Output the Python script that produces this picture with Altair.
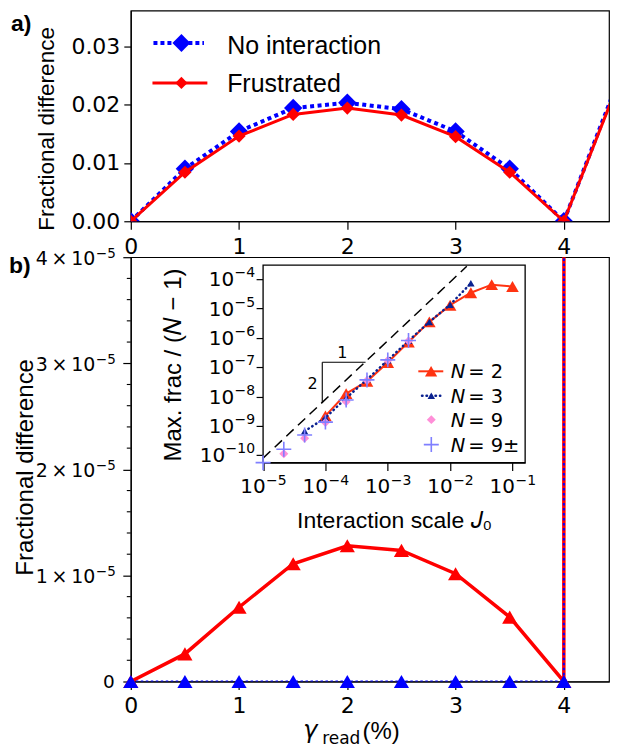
import altair as alt
import pandas as pd

# ---------------- data ----------------
gamma_read = [0, 0.5, 1, 1.5, 2, 2.5, 3, 3.5, 4, 4.5]
a_no_interaction = [0, 0.0090, 0.0154, 0.0194, 0.0203, 0.0192, 0.0154, 0.0090, 0.0, 0.0240]
a_frustrated = [0, 0.0084, 0.0146, 0.0183, 0.0194, 0.0182, 0.0145, 0.0084, 0.0, 0.0235]

b_no_interaction = [0, 0, 0, 0, 0, 0, 0, 0, 0, 0.0240]
b_frustrated = [0, 2.6e-6, 7.0e-6, 1.11e-5, 1.28e-5, 1.236e-5, 1.016e-5, 6.07e-6, 0, 0.0235]
b_major_ticks = [0, 1e-5, 2e-5, 3e-5, 4e-5]
b_minor_ticks = [0.2e-5, 0.4e-5, 0.6e-5, 0.8e-5, 1.2e-5, 1.4e-5, 1.6e-5, 1.8e-5,
                 2.2e-5, 2.4e-5, 2.6e-5, 2.8e-5, 3.2e-5, 3.4e-5, 3.6e-5, 3.8e-5]
x_domain = [0, 4.4172]

# inset
n2_J0 = [1e-4, 2.15e-4, 4.64e-4, 1e-3, 2.15e-3, 4.64e-3, 1e-2, 2.15e-2, 4.64e-2, 1e-1]
n2_val = [2.2e-9, 1.26e-8, 3.3e-8, 1.45e-7, 7.2e-7, 3.5e-6, 1.3e-5, 3.45e-5, 6.5e-5, 5.6e-5]
n3_J0 = [4.64e-5, 1e-4, 2.15e-4, 4.64e-4, 1e-3, 2.15e-3, 4.64e-3, 1e-2, 2.15e-2]
n3_val = [6.6e-10, 1.9e-9, 8.9e-9, 3.8e-8, 1.74e-7, 7.9e-7, 3.5e-6, 1.35e-5, 7.2e-5]
n9_J0 = [2.15e-5, 4.64e-5, 1e-4, 2.15e-4, 4.64e-4, 1e-3, 2.15e-3]
n9_val = [1.12e-10, 3.8e-10, 1.32e-9, 6.6e-9, 3.5e-8, 1.7e-7, 7.8e-7]
n9pm_J0 = [1e-5, 2.15e-5, 4.64e-5, 1e-4, 2.15e-4, 4.64e-4, 1e-3, 2.15e-3]
n9pm_val = [5.6e-11, 1.6e-10, 4.9e-10, 1.35e-9, 7.6e-9, 3.7e-8, 1.78e-7, 8.1e-7]
guide_J0 = [1e-5, 0.0185]
guide_val = [8e-11, 2.74e-4]
slope_J0 = [8.9e-5, 4.4e-4]
slope_val = [6.0e-9, 1.48e-7]
inset_x_ticks = [1e-5, 1e-4, 1e-3, 1e-2, 1e-1]
inset_y_ticks = [1e-10, 1e-9, 1e-8, 1e-7, 1e-6, 1e-5, 1e-4]
inset_x_domain = [1e-5, 0.1596]
inset_y_domain = [10 ** -10.248, 10 ** -3.524]

# ---------------- helpers ----------------
one = pd.DataFrame({'k': [0]})
MINUS = '\u2212'


def txt(s, x, y, size, font='Liberation Sans', style='normal', weight='normal',
        align='left', baseline='alphabetic'):
    return alt.Chart(one).mark_text(text=s, font=font, fontSize=size, fontStyle=style,
                                    fontWeight=weight, align=align, baseline=baseline,
                                    color='black').encode(x=alt.value(x), y=alt.value(y))


def seg(x1, x2, y, color, width, dash=None, cap='butt'):
    kw = dict(color=color, strokeWidth=width, strokeCap=cap)
    if dash:
        kw['strokeDash'] = dash
    return alt.Chart(one).mark_rule(**kw).encode(x=alt.value(x1), x2=alt.value(x2), y=alt.value(y))


def sym(x, y, shape, size, color, filled=True, width=1.0):
    return alt.Chart(one).mark_point(shape=shape, size=size, color=color, filled=filled,
                                     opacity=1, strokeWidth=width).encode(x=alt.value(x), y=alt.value(y))


CROSS = 'M-1,0L1,0M0,-1L0,1'
C_N2, C_N3, C_N9, C_N9PM = '#ff3311', '#0b2290', '#ff8fd8', '#7f7fff'

common_axis = dict(grid=False, domainColor='black', tickColor='black', labelColor='black',
                   titleColor='black', labelFont='DejaVu Sans', titleFont='Liberation Sans',
                   titleFontWeight='normal', labelFlush=False, labelOverlap=False,
                   domainWidth=1.2, tickWidth=1.2)

W = 479
LAB_X = -122

# ---------------- panel a ----------------
df_a = pd.DataFrame({'g': gamma_read, 'noint': a_no_interaction, 'frus': a_frustrated})
xa = alt.Scale(domain=x_domain, nice=False, zero=False)
ya = alt.Scale(domain=[0, 0.0361], nice=False, zero=False)
ax_xa = alt.Axis(values=[0, 1, 2, 3, 4], format='d', title=None, tickSize=8,
                 labelPadding=24.7, labelBaseline='alphabetic', labelFontSize=22, **common_axis)
ax_ya = alt.Axis(values=[0, 0.01, 0.02, 0.03], format='.2f', title='Fractional difference',
                 titleFontSize=22.6, titleX=-77, titleY=118, titleAngle=270, titleAlign='center',
                 titleBaseline='alphabetic', tickSize=7, labelPadding=4, labelFontSize=22,
                 **common_axis)

base_a = alt.Chart(df_a)
a_blue_line = base_a.mark_line(color='#0000ff', strokeWidth=4, strokeDash=[4, 3.5], clip=True).encode(
    x=alt.X('g:Q', scale=xa, axis=ax_xa), y=alt.Y('noint:Q', scale=ya, axis=ax_ya))
a_blue_pts = base_a.mark_point(shape='diamond', size=340, filled=True, color='#0000ff', opacity=1,
                               clip=True).encode(
    x=alt.X('g:Q', scale=xa, axis=ax_xa), y=alt.Y('noint:Q', scale=ya, axis=ax_ya))
a_red_line = base_a.mark_line(color='#ff0000', strokeWidth=3, clip=True).encode(
    x=alt.X('g:Q', scale=xa, axis=ax_xa), y=alt.Y('frus:Q', scale=ya, axis=ax_ya))
a_red_pts = base_a.mark_point(shape='diamond', size=175, filled=True, color='#ff0000', opacity=1,
                              clip=True).encode(
    x=alt.X('g:Q', scale=xa, axis=ax_xa), y=alt.Y('frus:Q', scale=ya, axis=ax_ya))

panel_a = alt.layer(
    a_blue_line, a_blue_pts, a_red_line, a_red_pts,
    seg(22.7, 73.3, 32.4, '#0000ff', 4, dash=[4, 3]),
    sym(50.7, 32.4, 'diamond', 324, '#0000ff'),
    txt('No interaction', 96.5, 43, 25),
    seg(21.7, 76.7, 72.4, '#ff0000', 3),
    sym(50.7, 72.4, 'diamond', 150, '#ff0000'),
    txt('Frustrated', 96.5, 81.4, 25),
    txt('a)', LAB_X + 2, 20, 23, weight='bold'),
).properties(width=W, height=211)

# ---------------- panel b ----------------
df_b = pd.DataFrame({'g': gamma_read, 'noint': b_no_interaction, 'frus': b_frustrated})
yb = alt.Scale(domain=[0, 4e-5], nice=False, zero=False)
ax_xb = alt.Axis(values=[0, 1, 2, 3, 4], format='d', title=None, tickSize=8,
                 labelPadding=23.5, labelBaseline='alphabetic', labelFontSize=22, **common_axis)
ax_yb = alt.Axis(values=b_major_ticks, labels=False,
                 title='Fractional difference', titleFontSize=24, titleX=-98, titleY=210,
                 titleAngle=270, titleAlign='center', titleBaseline='alphabetic',
                 tickSize=8, **common_axis)

base_b = alt.Chart(df_b)
enc_bx = alt.X('g:Q', scale=xa, axis=ax_xb)
b_red_line = base_b.mark_line(color='#ff0000', strokeWidth=3.5, clip=True).encode(
    x=enc_bx, y=alt.Y('frus:Q', scale=yb, axis=ax_yb))
b_red_pts = base_b.transform_filter('datum.g <= 4').mark_point(
    shape='triangle-up', size=230, filled=True, color='#ff0000', opacity=1).encode(
    x=enc_bx, y=alt.Y('frus:Q', scale=yb, axis=ax_yb))
b_blue_line = base_b.mark_line(color='#0000ff', strokeWidth=2, strokeDash=[2.5, 2.5], clip=True).encode(
    x=enc_bx, y=alt.Y('noint:Q', scale=yb, axis=ax_yb))
b_blue_pts = base_b.transform_filter('datum.g <= 4').mark_point(
    shape='triangle-up', size=230, filled=True, color='#0000ff', opacity=1).encode(
    x=enc_bx, y=alt.Y('noint:Q', scale=yb, axis=ax_yb))
b_minor = alt.Chart(pd.DataFrame({'v': b_minor_ticks})).mark_rule(color='black', strokeWidth=1.1).encode(
    y=alt.Y('v:Q', scale=yb, axis=ax_yb), x=alt.value(-4), x2=alt.value(0))

# tick labels of panel b's y axis: mantissa "k × 10" with a raised exponent
df_bt = pd.DataFrame({'v': b_major_ticks})
b_lab_base = alt.Chart(df_bt).transform_filter('datum.v > 0').transform_calculate(
    t="format(datum.v * 1e5, 'd') + '\u2009×\u200910'").mark_text(
    font='DejaVu Sans', fontSize=19, align='right', baseline='alphabetic', dy=8, color='black').encode(
    x=alt.value(-35.5), y=alt.Y('v:Q', scale=yb, axis=ax_yb), text='t:N')
b_lab_exp = alt.Chart(df_bt).transform_filter('datum.v > 0').mark_text(
    text=MINUS + '5', font='DejaVu Sans', fontSize=13.5, align='left', baseline='alphabetic', dy=0.5,
    color='black').encode(x=alt.value(-35), y=alt.Y('v:Q', scale=yb, axis=ax_yb))
b_lab_zero = alt.Chart(df_bt).transform_filter('datum.v == 0').mark_text(
    text='0', font='DejaVu Sans', fontSize=18.5, align='right', baseline='alphabetic', dy=7,
    color='black').encode(x=alt.value(-16), y=alt.Y('v:Q', scale=yb, axis=ax_yb))

b_main = alt.layer(
    b_red_line, b_red_pts, b_blue_line, b_blue_pts, b_minor, b_lab_base, b_lab_exp, b_lab_zero,
    txt('b)', LAB_X, 15.7, 23, weight='bold'),
    txt('γ', 172.7, 481.5, 24, font='DejaVu Sans', style='italic'),
    txt('read', 191.7, 488, 17, font='DejaVu Sans'),
    txt('(%)', 232, 483, 24),
)

# ---------------- inset ----------------
xi = alt.Scale(type='log', domain=inset_x_domain, range=[132.5, 395], nice=False)
yi = alt.Scale(type='log', domain=inset_y_domain, range=[205.7, 8], nice=False)
ax_xi = alt.Axis(orient='bottom', offset=-219.3, values=inset_x_ticks, labels=False,
                 tickSize=8, title='Interaction scale \U0001D43D\u2080', titleFontSize=23,
                 titleBaseline='alphabetic', titleY=65.3, titleAlign='center', **common_axis)
ax_yi = alt.Axis(orient='left', offset=-132.5, values=inset_y_ticks, labels=False,
                 tickSize=7, title='Max. frac / (\U0001D441 \u2212 1)', titleFontSize=24, titleX=-82.5,
                 titleY=107.5, titleAngle=270, titleAlign='center', titleBaseline='alphabetic',
                 **common_axis)


def ix(f):
    return alt.X(f + ':Q', scale=xi, axis=ax_xi)


def iy(f):
    return alt.Y(f + ':Q', scale=yi, axis=ax_yi)


EXP = "'\u2212' + format(round(-log(datum.v) / LN10), 'd')"
BASE_FS, EXP_FS = 20, 14

df_xt = pd.DataFrame({'v': inset_x_ticks})
ix_lab_base = alt.Chart(df_xt).mark_text(text='10', font='DejaVu Sans', fontSize=BASE_FS, align='right',
                                         baseline='alphabetic', dx=2.5, color='black').encode(
    x=ix('v'), y=alt.value(235.7))
ix_lab_exp = alt.Chart(df_xt).transform_calculate(e=EXP).mark_text(
    font='DejaVu Sans', fontSize=EXP_FS, align='left', baseline='alphabetic', dx=3, color='black').encode(
    x=ix('v'), y=alt.value(228), text='e:N')

df_yt = pd.DataFrame({'v': inset_y_ticks})
iy_lab_exp = alt.Chart(df_yt).transform_calculate(e=EXP).mark_text(
    font='DejaVu Sans', fontSize=EXP_FS, align='right', baseline='alphabetic', dy=-2, color='black').encode(
    x=alt.value(124.5), y=iy('v'), text='e:N')
iy_lab_base1 = alt.Chart(df_yt).transform_filter('datum.v > 3e-10').mark_text(
    text='10', font='DejaVu Sans', fontSize=BASE_FS, align='right', baseline='alphabetic', dy=7,
    color='black').encode(x=alt.value(124.5 - 21), y=iy('v'))
iy_lab_base2 = alt.Chart(df_yt).transform_filter('datum.v < 3e-10').mark_text(
    text='10', font='DejaVu Sans', fontSize=BASE_FS, align='right', baseline='alphabetic', dy=7,
    color='black').encode(x=alt.value(124.5 - 30), y=iy('v'))

frame = alt.Chart(pd.DataFrame({'x1': [inset_x_domain[0]], 'x2': [inset_x_domain[1]],
                                'y1': [inset_y_domain[0]], 'y2': [inset_y_domain[1]]})).mark_rect(
    fill='white', stroke='black', strokeWidth=1.3).encode(x=ix('x1'), x2='x2', y=iy('y1'), y2='y2')

guide = alt.Chart(pd.DataFrame({'j': guide_J0, 'v': guide_val})).mark_line(
    color='black', strokeWidth=1.5, strokeDash=[10, 6]).encode(x=ix('j'), y=iy('v'))
slope_h = alt.Chart(pd.DataFrame({'j': [slope_J0[0]], 'j2': [slope_J0[1]], 'v': [slope_val[1]]})).mark_rule(
    color='black', strokeWidth=1.1).encode(x=ix('j'), x2='j2', y=iy('v'))
slope_v = alt.Chart(pd.DataFrame({'j': [slope_J0[0]], 'v': [slope_val[0]], 'v2': [slope_val[1]]})).mark_rule(
    color='black', strokeWidth=1.1).encode(x=ix('j'), y=iy('v'), y2='v2')
slope_txt = alt.Chart(pd.DataFrame({'j': [1.86e-4, 6.2e-5], 'v': [3.0e-7, 2.75e-8], 't': ['1', '2']})).mark_text(
    font='DejaVu Sans', fontSize=16, color='black', align='center', baseline='middle').encode(
    x=ix('j'), y=iy('v'), text='t:N')

df_n2 = pd.DataFrame({'j': n2_J0, 'v': n2_val})
df_n3 = pd.DataFrame({'j': n3_J0, 'v': n3_val})
n2_line = alt.Chart(df_n2).mark_line(color=C_N2, strokeWidth=2).encode(x=ix('j'), y=iy('v'))
n2_pts = alt.Chart(df_n2).mark_point(shape='triangle-up', size=160, filled=True, color=C_N2,
                                     opacity=1).encode(x=ix('j'), y=iy('v'))
n3_line = alt.Chart(df_n3).mark_line(color=C_N3, strokeWidth=2.5, strokeDash=[0.5, 4],
                                     strokeCap='round').encode(x=ix('j'), y=iy('v'))
n3_pts = alt.Chart(df_n3).mark_point(shape='triangle-up', size=56, filled=True, color=C_N3,
                                     opacity=1).encode(x=ix('j'), y=iy('v'))
n9_pts = alt.Chart(pd.DataFrame({'j': n9_J0, 'v': n9_val})).mark_point(
    shape='diamond', size=81, filled=True, color=C_N9, opacity=1).encode(x=ix('j'), y=iy('v'))
n9pm_pts = alt.Chart(pd.DataFrame({'j': n9pm_J0, 'v': n9pm_val})).mark_point(
    shape=CROSS, size=225, filled=False, color=C_N9PM, opacity=1, strokeWidth=1.6).encode(
    x=ix('j'), y=iy('v'))

rows = [114.3, 138.7, 162.7, 187.7]
inset_legend = [
    seg(288, 313, rows[0], C_N2, 2), sym(300.8, rows[0], 'triangle-up', 150, C_N2),
    seg(291.7, 310, rows[1], C_N3, 2.5, dash=[0.5, 4], cap='round'), sym(301, rows[1], 'triangle-up', 56, C_N3),
    sym(301, rows[2], 'diamond', 81, C_N9),
    sym(301, rows[3], CROSS, 225, C_N9PM, filled=False, width=1.6),
]
for r, lab in zip(rows, ['= 2', '= 3', '= 9', '= 9±']):
    inset_legend.append(txt('N', 320.5, r + 7, 19.5, font='DejaVu Sans', style='italic'))
    inset_legend.append(txt(lab, 338, r + 7, 19.5, font='DejaVu Sans'))

b_inset = alt.layer(frame, guide, slope_h, slope_v, slope_txt, n2_line, n2_pts, n3_line, n3_pts,
                    n9_pts, n9pm_pts, ix_lab_base, ix_lab_exp, iy_lab_exp, iy_lab_base1, iy_lab_base2,
                    *inset_legend)

panel_b = alt.layer(b_main, b_inset).resolve_scale(x='independent', y='independent').properties(
    width=W, height=425)

chart = alt.vconcat(panel_a, panel_b, spacing=36, bounds='flush').properties(
    padding={'left': 0, 'top': 1, 'right': 0, 'bottom': 0}
).configure_view(stroke='black', strokeWidth=1.2)

chart.save('out.html', embed_options={'renderer': 'svg', 'actions': False})
